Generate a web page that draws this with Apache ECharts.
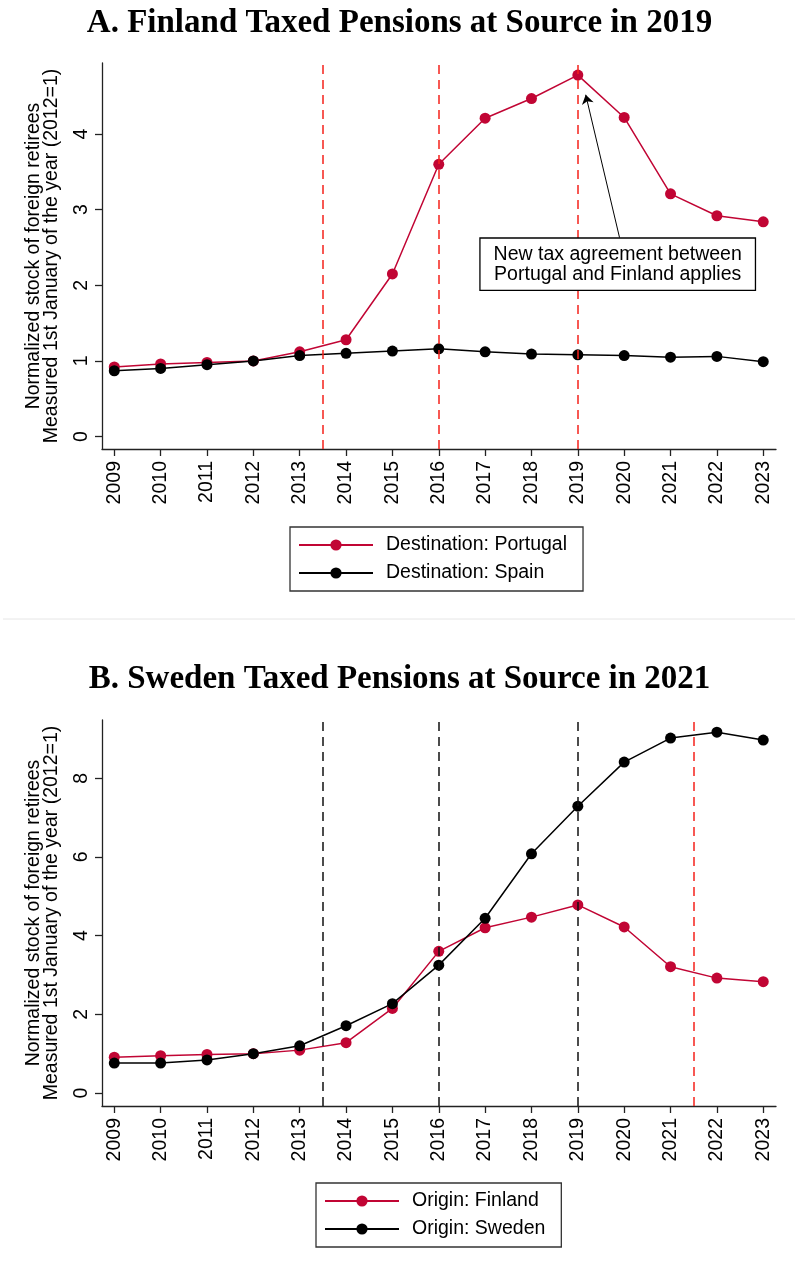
<!DOCTYPE html>
<html>
  <head>
    <meta charset="utf-8" />
    <title>Pensions taxed at source</title>
    <!-- ECharts -->
    <script src="https://cdn.jsdelivr.net/npm/echarts@6/dist/echarts.min.js"></script>
    <style type="text/css">
      * {
        margin: 0px;
        padding: 0px;
      }
      body {
        background-color: #ffffff;
      }
    </style>
  </head>
  <body>
    <div id="main" style="width: 799px; height: 1268px"></div>
  </body>
</html>
<script>
  // data (2012 = 1)
  const years = [2009, 2010, 2011, 2012, 2013, 2014, 2015, 2016, 2017, 2018, 2019, 2020, 2021, 2022, 2023];

  // panel A: Finnish retirees by destination
  const portugal = [0.92, 0.96, 0.98, 1.0, 1.12, 1.28, 2.15, 3.6, 4.21, 4.47, 4.78, 4.22, 3.21, 2.92, 2.84];
  const spain = [0.87, 0.9, 0.95, 1.0, 1.07, 1.1, 1.13, 1.16, 1.12, 1.09, 1.08, 1.07, 1.05, 1.06, 0.99];

  // panel B: retirees in Portugal by origin
  const finland = [0.91, 0.95, 0.98, 1.0, 1.09, 1.28, 2.15, 3.6, 4.2, 4.47, 4.78, 4.22, 3.21, 2.92, 2.83];
  const sweden = [0.76, 0.76, 0.84, 1.0, 1.2, 1.71, 2.27, 3.25, 4.44, 6.08, 7.29, 8.41, 9.02, 9.17, 8.97];

  // vertical reference lines
  const linesA = [2013.5, 2016, 2019];
  const linesB = [2013.5, 2016, 2019];
  const linesBRed = [2021.5];

  const ticksA = [0, 1, 2, 3, 4];
  const ticksB = [0, 2, 4, 6, 8];

  const RED = "#c10534";
  const DASH_RED = "#f5221b";
  const SANS = "Liberation Sans, Arial, sans-serif";
  const FS = 19.5;

  function pairs(vals) {
    return years.map(function (y, i) {
      return [y, vals[i]];
    });
  }

  function xAxisFor(gridIndex) {
    return {
      type: "value",
      gridIndex: gridIndex,
      min: 2008.735,
      max: 2023.275,
      splitLine: { show: false },
      axisLine: { onZero: false, lineStyle: { color: "#222", width: 1.3 } },
      axisTick: { customValues: years, length: 7, lineStyle: { color: "#222", width: 1.3 } },
      axisLabel: {
        customValues: years,
        rotate: 90,
        margin: 12,
        color: "#000",
        fontFamily: SANS,
        fontSize: FS,
        formatter: function (v) {
          return String(v);
        },
      },
    };
  }

  function yAxisFor(gridIndex, min, max, ticks) {
    return {
      type: "value",
      gridIndex: gridIndex,
      min: min,
      max: max,
      splitLine: { show: false },
      name: "Normalized stock of foreign retirees\nMeasured 1st January of the year (2012=1)",
      nameLocation: "middle",
      nameRotate: 90,
      nameGap: 41,
      nameTextStyle: { color: "#000", fontFamily: SANS, fontSize: FS, lineHeight: 18 },
      axisLine: { show: true, lineStyle: { color: "#222", width: 1.3 } },
      axisTick: { show: true, customValues: ticks, length: 7, lineStyle: { color: "#222", width: 1.3 } },
      axisLabel: {
        customValues: ticks,
        rotate: 90,
        margin: 10,
        color: "#000",
        fontFamily: SANS,
        fontSize: FS,
      },
    };
  }

  function vline(x, color) {
    return { xAxis: x, lineStyle: { color: color, type: [9, 6], width: 1.5 } };
  }

  function lineSeries(name, vals, color, idx) {
    return {
      name: name,
      type: "line",
      xAxisIndex: idx,
      yAxisIndex: idx,
      data: pairs(vals),
      symbol: "circle",
      symbolSize: 11,
      showSymbol: true,
      lineStyle: { color: color, width: 1.5 },
      itemStyle: { color: color },
      z: 3,
    };
  }

  let myChart = echarts.init(document.getElementById("main"));

  let sPortugal = lineSeries("Destination: Portugal", portugal, RED, 0);
  sPortugal.markLine = {
    silent: true,
    symbol: "none",
    label: { show: false },
    data: linesA.map(function (x) {
      return vline(x, DASH_RED);
    }),
  };

  let sSpain = lineSeries("Destination: Spain", spain, "#000", 0);
  // arrow pointing at the 2019 peak + text box
  sSpain.markLine = {
    silent: true,
    symbol: ["none", "arrow"],
    symbolSize: 9,
    label: { show: false },
    lineStyle: { color: "#000", type: "solid", width: 1 },
    data: [[{ coord: [2019.9, 2.63] }, { coord: [2019.17, 4.52] }]],
  };
  sSpain.markPoint = {
    silent: true,
    symbol: "rect",
    symbolSize: 1,
    itemStyle: { color: "rgba(0,0,0,0)" },
    label: {
      show: true,
      position: "inside",
      formatter: "New tax agreement between\nPortugal and Finland applies",
      color: "#000",
      fontFamily: SANS,
      fontSize: FS,
      lineHeight: 20,
      align: "center",
      backgroundColor: "#fff",
      borderColor: "#000",
      borderWidth: 1.3,
      padding: [6, 13, 5, 13],
    },
    data: [{ coord: [2019.86, 2.28] }],
  };

  let sFinland = lineSeries("Origin: Finland", finland, RED, 1);
  let sSweden = lineSeries("Origin: Sweden", sweden, "#000", 1);
  sFinland.markLine = {
    silent: true,
    symbol: "none",
    label: { show: false },
    data: linesB
      .map(function (x) {
        return vline(x, "#111");
      })
      .concat(
        linesBRed.map(function (x) {
          return vline(x, DASH_RED);
        })
      ),
  };

  let legendStyle = {
    orient: "vertical",
    itemWidth: 74,
    itemHeight: 14,
    itemGap: 8,
    borderColor: "#333",
    borderWidth: 1.3,
    borderRadius: 0,
    padding: [8, 16, 8, 8],
    textStyle: { color: "#000", fontFamily: SANS, fontSize: FS, padding: [0, 0, 0, 8] },
  };

  let titleFont = { fontFamily: "Liberation Serif, serif", fontWeight: "bold", fontSize: 33, color: "#000" };

  let option = {
    animation: false,
    backgroundColor: "#fff",
    title: [
      {
        text: "A. Finland Taxed Pensions at Source in 2019",
        left: "center",
        top: 7,
        padding: 0,
        textStyle: titleFont,
      },
      {
        text: "B. Sweden Taxed Pensions at Source in 2021",
        left: "center",
        top: 663,
        padding: 0,
        textStyle: titleFont,
      },
    ],
    legend: [
      Object.assign({}, legendStyle, { left: 290, top: 527, data: ["Destination: Portugal", "Destination: Spain"] }),
      Object.assign({}, legendStyle, { left: 316, top: 1183, data: ["Origin: Finland", "Origin: Sweden"] }),
    ],
    grid: [
      { left: 102, right: 23, top: 63, bottom: 819 },
      { left: 102, right: 23, top: 720, bottom: 162 },
    ],
    xAxis: [xAxisFor(0), xAxisFor(1)],
    yAxis: [yAxisFor(0, -0.165, 4.94, ticksA), yAxisFor(1, -0.33, 9.48, ticksB)],
    series: [sPortugal, sSpain, sFinland, sSweden],
    graphic: [
      {
        type: "line",
        shape: { x1: 3, y1: 619, x2: 795, y2: 619 },
        style: { stroke: "#e6e6e6", lineWidth: 1 },
        silent: true,
      },
    ],
  };

  myChart.setOption(option);
</script>
